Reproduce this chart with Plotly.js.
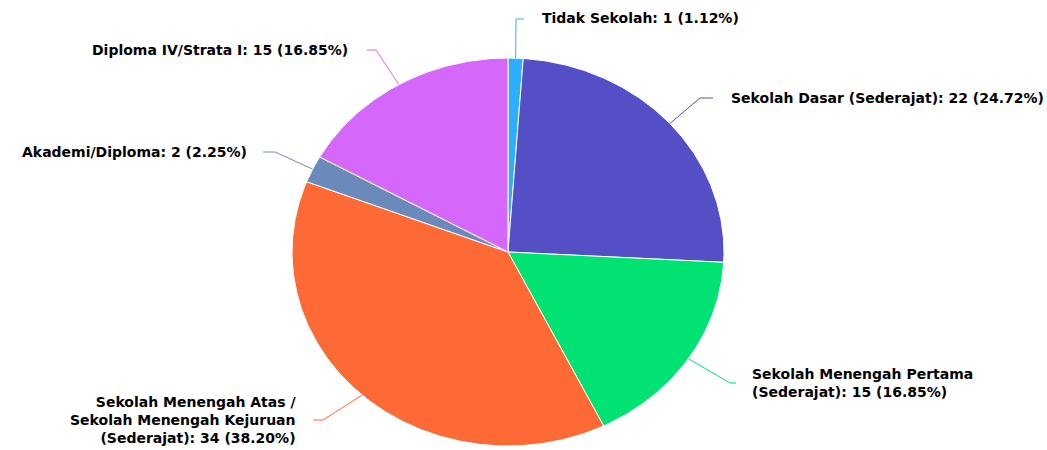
<!DOCTYPE html>
<html><head><meta charset="utf-8">
<script src="https://cdn.plot.ly/plotly-3.0.1.min.js"></script>
<style>html,body{margin:0;padding:0;background:#fff}#chart{width:1047px;height:450px}</style>
</head><body><div id="chart"></div>
<script>
const categories = ["Tidak Sekolah", "Sekolah Dasar (Sederajat)", "Sekolah Menengah Pertama\n(Sederajat)", "Sekolah Menengah Atas /\nSekolah Menengah Kejuruan\n(Sederajat)", "Akademi/Diploma", "Diploma IV/Strata I"];
const values = [1, 22, 15, 34, 2, 15];
const colors = ["#2caffe", "#544fc5", "#00e272", "#fe6a35", "#6b8abc", "#d568fb"];

// geometry (pixel space of the plot)
const CX = 508, CY = 252, RX = 216, RY = 194;
// label placement: elbow point, connector end x, text anchor x/y, side
const labelPlace = [
  {ex: 516, ey: 19, lx: 524, tx: 540, ty: 18, side: 'left'},
  {ex: 700, ey: 98, lx: 713, tx: 729, ty: 98, side: 'left'},
  {ex: 730, ey: 383, lx: 736, tx: 750, ty: 383, side: 'left'},
  {ex: 323, ey: 420, lx: 313, tx: 298, ty: 420, side: 'right'},
  {ex: 275, ey: 152, lx: 263, tx: 249, ty: 152, side: 'right'},
  {ex: 376, ey: 50, lx: 367, tx: 350, ty: 50, side: 'right'}
];

const total = values.reduce((a, b) => a + b, 0);
function pt(frac, rx, ry) {
  const t = frac * 2 * Math.PI;
  return [CX + rx * Math.sin(t), CY - ry * Math.cos(t)];
}
const traces = [];
const annotations = [];
let cum = 0;
values.forEach((v, i) => {
  const f0 = cum / total, f1 = (cum + v) / total;
  cum += v;
  const xs = [CX], ys = [CY];
  const n = Math.max(4, Math.ceil((f1 - f0) * 720));
  for (let k = 0; k <= n; k++) {
    const p = pt(f0 + (f1 - f0) * k / n, RX, RY);
    xs.push(p[0]); ys.push(p[1]);
  }
  xs.push(CX); ys.push(CY);
  traces.push({type: 'scatter', mode: 'lines', x: xs, y: ys, fill: 'toself', fillcolor: colors[i],
    line: {color: '#ffffff', width: 1}, hoverinfo: 'skip', showlegend: false});
  const L = labelPlace[i];
  const a = pt((f0 + f1) / 2, RX, RY);
  traces.push({type: 'scatter', mode: 'lines', x: [a[0], L.ex, L.lx], y: [a[1], L.ey, L.ey],
    line: {color: colors[i], width: 1}, hoverinfo: 'skip', showlegend: false});
  const pct = (v / total * 100).toFixed(2);
  annotations.push({
    xref: 'x', yref: 'y', x: L.tx, y: L.ty, showarrow: false,
    xanchor: L.side, yanchor: 'middle', align: L.side,
    text: categories[i].replace(/\n/g, '<br>') + ': ' + v + ' (' + pct + '%)',
    font: {family: 'DejaVu Sans', size: 14, color: '#000000', weight: 700}
  });
});

const layout = {
  width: 1047, height: 450,
  margin: {l: 0, r: 0, t: 0, b: 0},
  paper_bgcolor: '#ffffff', plot_bgcolor: '#ffffff',
  xaxis: {range: [0, 1047], visible: false, fixedrange: true},
  yaxis: {range: [450, 0], visible: false, fixedrange: true},
  annotations: annotations,
  showlegend: false
};
Plotly.newPlot('chart', traces, layout, {displayModeBar: false, staticPlot: true});
</script></body></html>
